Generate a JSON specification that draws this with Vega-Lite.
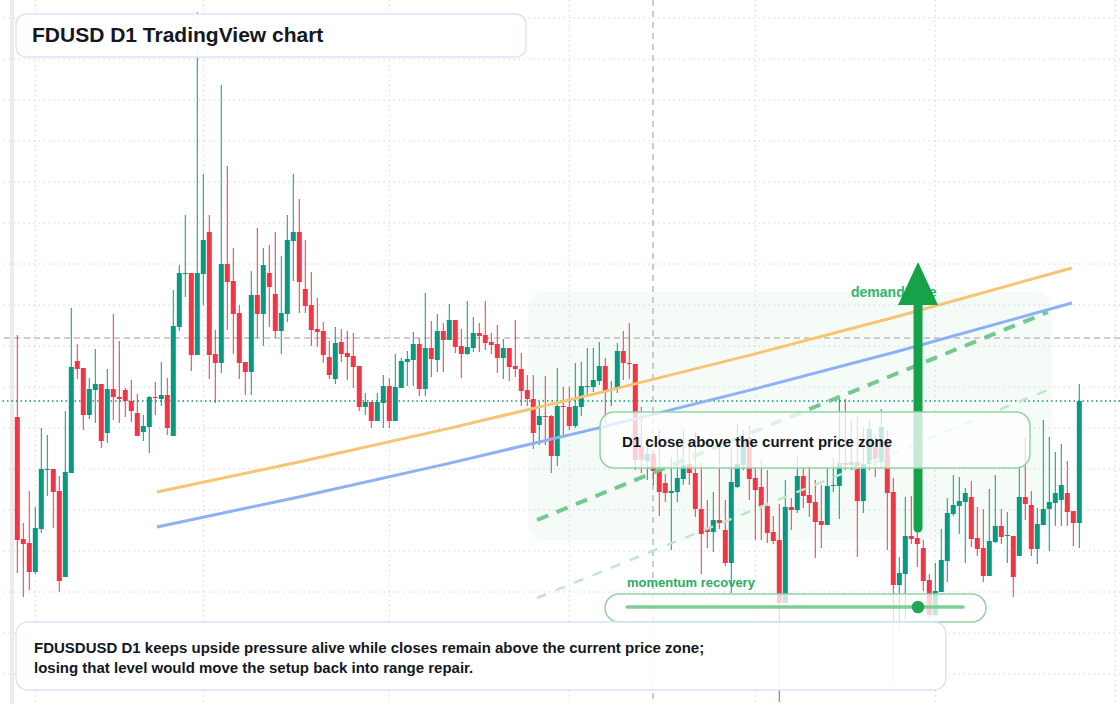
{
"$schema":"https://vega.github.io/schema/vega-lite/v6.json",
"width":1120,"height":704,
"autosize":{"type":"none"},
"padding":0,
"background":"#ffffff",
"config":{"view":{"stroke":null},"axis":{"disable":true},"font":"Liberation Sans","scale":{"continuousPadding":0}},
"datasets":{
"candles":[
{"t":0,"o":0.99985,"h":1.00067,"l":0.99829,"c":0.99862},
{"t":1,"o":0.99863,"h":0.99879,"l":0.99805,"c":0.99858},
{"t":2,"o":0.99859,"h":0.99911,"l":0.99812,"c":0.99830},
{"t":3,"o":0.99830,"h":0.99895,"l":0.99828,"c":0.99874},
{"t":4,"o":0.99873,"h":0.99974,"l":0.99869,"c":0.99933},
{"t":5,"o":0.99932,"h":0.99967,"l":0.99906,"c":0.99933},
{"t":6,"o":0.99933,"h":0.99933,"l":0.99874,"c":0.99910},
{"t":7,"o":0.99911,"h":0.99926,"l":0.99810,"c":0.99821},
{"t":8,"o":0.99825,"h":0.99991,"l":0.99825,"c":0.99930},
{"t":9,"o":0.99929,"h":1.00094,"l":0.99929,"c":1.00035},
{"t":10,"o":1.00041,"h":1.00058,"l":1.00023,"c":1.00033},
{"t":11,"o":1.00034,"h":1.00034,"l":0.99972,"c":0.99987},
{"t":12,"o":0.99987,"h":1.00024,"l":0.99983,"c":1.00013},
{"t":13,"o":1.00012,"h":1.00053,"l":0.99979,"c":1.00018},
{"t":14,"o":1.00018,"h":1.00018,"l":0.99954,"c":0.99961},
{"t":15,"o":0.99969,"h":1.00033,"l":0.99959,"c":1.00013},
{"t":16,"o":1.00013,"h":1.00088,"l":0.99982,"c":1.00005},
{"t":17,"o":1.00005,"h":1.00061,"l":0.99979,"c":1.00003},
{"t":18,"o":1.00012,"h":1.00014,"l":0.99985,"c":1.00001},
{"t":19,"o":1.00001,"h":1.00022,"l":0.99980,"c":0.99991},
{"t":20,"o":0.99989,"h":1.00008,"l":0.99966,"c":0.99966},
{"t":21,"o":0.99970,"h":0.99987,"l":0.99961,"c":0.99976},
{"t":22,"o":0.99975,"h":1.00006,"l":0.99949,"c":1.00005},
{"t":23,"o":1.00005,"h":1.00020,"l":0.99987,"c":1.00004},
{"t":24,"o":1.00003,"h":1.00040,"l":0.99996,"c":1.00007},
{"t":25,"o":1.00007,"h":1.00024,"l":0.99967,"c":0.99974},
{"t":26,"o":0.99966,"h":1.00112,"l":0.99966,"c":1.00076},
{"t":27,"o":1.00075,"h":1.00137,"l":1.00071,"c":1.00129},
{"t":28,"o":1.00128,"h":1.00187,"l":1.00105,"c":1.00129},
{"t":29,"o":1.00129,"h":1.00129,"l":1.00031,"c":1.00047},
{"t":30,"o":1.00047,"h":1.00390,"l":1.00047,"c":1.00129},
{"t":31,"o":1.00128,"h":1.00228,"l":1.00097,"c":1.00162},
{"t":32,"o":1.00170,"h":1.00187,"l":1.00023,"c":1.00047},
{"t":33,"o":1.00048,"h":1.00072,"l":0.99999,"c":1.00039},
{"t":34,"o":1.00039,"h":1.00317,"l":1.00029,"c":1.00138},
{"t":35,"o":1.00138,"h":1.00236,"l":1.00072,"c":1.00120},
{"t":36,"o":1.00121,"h":1.00154,"l":1.00048,"c":1.00088},
{"t":37,"o":1.00089,"h":1.00097,"l":1.00023,"c":1.00039},
{"t":38,"o":1.00040,"h":1.00040,"l":1.00007,"c":1.00030},
{"t":39,"o":1.00030,"h":1.00131,"l":1.00007,"c":1.00107},
{"t":40,"o":1.00107,"h":1.00174,"l":1.00064,"c":1.00088},
{"t":41,"o":1.00088,"h":1.00154,"l":1.00056,"c":1.00137},
{"t":42,"o":1.00129,"h":1.00157,"l":1.00075,"c":1.00115},
{"t":43,"o":1.00108,"h":1.00170,"l":1.00064,"c":1.00071},
{"t":44,"o":1.00071,"h":1.00146,"l":1.00048,"c":1.00089},
{"t":45,"o":1.00088,"h":1.00187,"l":1.00080,"c":1.00162},
{"t":46,"o":1.00161,"h":1.00228,"l":1.00121,"c":1.00170},
{"t":47,"o":1.00170,"h":1.00203,"l":1.00089,"c":1.00120},
{"t":48,"o":1.00113,"h":1.00162,"l":1.00089,"c":1.00096},
{"t":49,"o":1.00097,"h":1.00130,"l":1.00056,"c":1.00072},
{"t":50,"o":1.00073,"h":1.00104,"l":1.00055,"c":1.00070},
{"t":51,"o":1.00071,"h":1.00080,"l":1.00039,"c":1.00047},
{"t":52,"o":1.00045,"h":1.00061,"l":1.00023,"c":1.00027},
{"t":53,"o":1.00023,"h":1.00075,"l":1.00018,"c":1.00059},
{"t":54,"o":1.00060,"h":1.00073,"l":1.00040,"c":1.00048},
{"t":55,"o":1.00049,"h":1.00071,"l":1.00022,"c":1.00045},
{"t":56,"o":1.00046,"h":1.00069,"l":1.00014,"c":1.00035},
{"t":57,"o":1.00036,"h":1.00036,"l":0.99991,"c":0.99995},
{"t":58,"o":0.99995,"h":1.00009,"l":0.99987,"c":1.00000},
{"t":59,"o":1.00000,"h":1.00000,"l":0.99974,"c":0.99981},
{"t":60,"o":0.99981,"h":1.00009,"l":0.99981,"c":1.00000},
{"t":61,"o":0.99999,"h":1.00027,"l":0.99974,"c":1.00016},
{"t":62,"o":1.00016,"h":1.00024,"l":0.99974,"c":0.99981},
{"t":63,"o":0.99981,"h":1.00048,"l":0.99981,"c":1.00015},
{"t":64,"o":1.00014,"h":1.00044,"l":1.00014,"c":1.00041},
{"t":65,"o":1.00040,"h":1.00051,"l":1.00016,"c":1.00043},
{"t":66,"o":1.00042,"h":1.00070,"l":1.00016,"c":1.00058},
{"t":67,"o":1.00058,"h":1.00064,"l":1.00006,"c":1.00013},
{"t":68,"o":1.00013,"h":1.00109,"l":1.00006,"c":1.00054},
{"t":69,"o":1.00054,"h":1.00081,"l":1.00025,"c":1.00043},
{"t":70,"o":1.00042,"h":1.00088,"l":1.00030,"c":1.00071},
{"t":71,"o":1.00071,"h":1.00079,"l":1.00030,"c":1.00062},
{"t":72,"o":1.00062,"h":1.00098,"l":1.00062,"c":1.00082},
{"t":73,"o":1.00082,"h":1.00082,"l":1.00049,"c":1.00055},
{"t":74,"o":1.00056,"h":1.00073,"l":1.00024,"c":1.00048},
{"t":75,"o":1.00048,"h":1.00101,"l":1.00047,"c":1.00055},
{"t":76,"o":1.00054,"h":1.00085,"l":1.00050,"c":1.00069},
{"t":77,"o":1.00069,"h":1.00079,"l":1.00050,"c":1.00066},
{"t":78,"o":1.00067,"h":1.00101,"l":1.00052,"c":1.00059},
{"t":79,"o":1.00060,"h":1.00069,"l":1.00048,"c":1.00057},
{"t":80,"o":1.00058,"h":1.00077,"l":1.00029,"c":1.00044},
{"t":81,"o":1.00044,"h":1.00063,"l":1.00023,"c":1.00054},
{"t":82,"o":1.00054,"h":1.00054,"l":1.00021,"c":1.00035},
{"t":83,"o":1.00036,"h":1.00082,"l":1.00025,"c":1.00033},
{"t":84,"o":1.00033,"h":1.00049,"l":0.99996,"c":1.00011},
{"t":85,"o":1.00012,"h":1.00027,"l":0.99996,"c":1.00003},
{"t":86,"o":1.00003,"h":1.00027,"l":0.99953,"c":0.99969},
{"t":87,"o":0.99977,"h":1.00000,"l":0.99957,"c":0.99986},
{"t":88,"o":0.99986,"h":1.00026,"l":0.99957,"c":0.99985},
{"t":89,"o":0.99986,"h":0.99987,"l":0.99929,"c":0.99946},
{"t":90,"o":0.99946,"h":1.00034,"l":0.99936,"c":0.99996},
{"t":91,"o":0.99996,"h":1.00015,"l":0.99965,"c":0.99995},
{"t":92,"o":0.99995,"h":1.00015,"l":0.99972,"c":0.99976},
{"t":93,"o":0.99976,"h":1.00039,"l":0.99974,"c":0.99996},
{"t":94,"o":0.99995,"h":1.00040,"l":0.99986,"c":1.00016},
{"t":95,"o":1.00015,"h":1.00054,"l":1.00005,"c":1.00016},
{"t":96,"o":1.00015,"h":1.00054,"l":1.00010,"c":1.00022},
{"t":97,"o":1.00021,"h":1.00060,"l":1.00017,"c":1.00036},
{"t":98,"o":1.00036,"h":1.00044,"l":0.99979,"c":1.00010},
{"t":99,"o":1.00012,"h":1.00021,"l":0.99996,"c":1.00013},
{"t":100,"o":1.00014,"h":1.00059,"l":1.00009,"c":1.00051},
{"t":101,"o":1.00051,"h":1.00071,"l":1.00022,"c":1.00039},
{"t":102,"o":1.00039,"h":1.00079,"l":1.00023,"c":1.00038},
{"t":103,"o":1.00038,"h":1.00038,"l":0.99932,"c":0.99942},
{"t":104,"o":0.99955,"h":0.99995,"l":0.99929,"c":0.99942},
{"t":105,"o":0.99941,"h":0.99962,"l":0.99922,"c":0.99948},
{"t":106,"o":0.99948,"h":0.99952,"l":0.99917,"c":0.99931},
{"t":107,"o":0.99933,"h":0.99972,"l":0.99886,"c":0.99910},
{"t":108,"o":0.99919,"h":0.99928,"l":0.99900,"c":0.99909},
{"t":109,"o":0.99909,"h":0.99945,"l":0.99852,"c":0.99911},
{"t":110,"o":0.99910,"h":0.99961,"l":0.99900,"c":0.99924},
{"t":111,"o":0.99923,"h":0.99972,"l":0.99917,"c":0.99937},
{"t":112,"o":0.99938,"h":0.99959,"l":0.99917,"c":0.99929},
{"t":113,"o":0.99929,"h":0.99970,"l":0.99885,"c":0.99893},
{"t":114,"o":0.99893,"h":0.99939,"l":0.99828,"c":0.99868},
{"t":115,"o":0.99874,"h":0.99902,"l":0.99854,"c":0.99870},
{"t":116,"o":0.99870,"h":0.99910,"l":0.99850,"c":0.99882},
{"t":117,"o":0.99882,"h":0.99955,"l":0.99873,"c":0.99879},
{"t":118,"o":0.99872,"h":0.99902,"l":0.99836,"c":0.99839},
{"t":119,"o":0.99839,"h":0.99953,"l":0.99809,"c":0.99920},
{"t":120,"o":0.99915,"h":0.99979,"l":0.99914,"c":0.99938},
{"t":121,"o":0.99937,"h":0.99972,"l":0.99932,"c":0.99962},
{"t":122,"o":0.99964,"h":0.99977,"l":0.99902,"c":0.99923},
{"t":123,"o":0.99924,"h":0.99935,"l":0.99862,"c":0.99912},
{"t":124,"o":0.99915,"h":0.99942,"l":0.99862,"c":0.99895},
{"t":125,"o":0.99896,"h":0.99932,"l":0.99859,"c":0.99869},
{"t":126,"o":0.99870,"h":0.99886,"l":0.99858,"c":0.99861},
{"t":127,"o":0.99862,"h":0.99898,"l":0.99700,"c":0.99799},
{"t":128,"o":0.99799,"h":0.99922,"l":0.99799,"c":0.99895},
{"t":129,"o":0.99895,"h":0.99904,"l":0.99872,"c":0.99892},
{"t":130,"o":0.99892,"h":0.99945,"l":0.99889,"c":0.99926},
{"t":131,"o":0.99926,"h":0.99934,"l":0.99894,"c":0.99906},
{"t":132,"o":0.99907,"h":0.99936,"l":0.99885,"c":0.99899},
{"t":133,"o":0.99900,"h":0.99922,"l":0.99844,"c":0.99880},
{"t":134,"o":0.99881,"h":0.99917,"l":0.99854,"c":0.99877},
{"t":135,"o":0.99877,"h":0.99935,"l":0.99877,"c":0.99916},
{"t":136,"o":0.99916,"h":0.99944,"l":0.99910,"c":0.99917},
{"t":137,"o":0.99916,"h":1.00006,"l":0.99883,"c":0.99939},
{"t":138,"o":0.99939,"h":1.00003,"l":0.99932,"c":0.99937},
{"t":139,"o":0.99937,"h":0.99981,"l":0.99932,"c":0.99940},
{"t":140,"o":0.99940,"h":0.99985,"l":0.99845,"c":0.99901},
{"t":141,"o":0.99901,"h":0.99975,"l":0.99889,"c":0.99938},
{"t":142,"o":0.99938,"h":0.99982,"l":0.99932,"c":0.99973},
{"t":143,"o":0.99955,"h":0.99967,"l":0.99925,"c":0.99940},
{"t":144,"o":0.99940,"h":0.99993,"l":0.99934,"c":0.99975},
{"t":145,"o":0.99956,"h":0.99972,"l":0.99852,"c":0.99909},
{"t":146,"o":0.99910,"h":0.99924,"l":0.99720,"c":0.99817},
{"t":147,"o":0.99817,"h":0.99845,"l":0.99770,"c":0.99829},
{"t":148,"o":0.99828,"h":0.99905,"l":0.99782,"c":0.99866},
{"t":149,"o":0.99866,"h":0.99906,"l":0.99858,"c":0.99863},
{"t":150,"o":0.99864,"h":0.99872,"l":0.99835,"c":0.99858},
{"t":151,"o":0.99854,"h":0.99862,"l":0.99811,"c":0.99821},
{"t":152,"o":0.99822,"h":0.99828,"l":0.99784,"c":0.99787},
{"t":153,"o":0.99787,"h":0.99839,"l":0.99787,"c":0.99811},
{"t":154,"o":0.99810,"h":0.99873,"l":0.99810,"c":0.99842},
{"t":155,"o":0.99841,"h":0.99904,"l":0.99820,"c":0.99889},
{"t":156,"o":0.99888,"h":0.99927,"l":0.99886,"c":0.99897},
{"t":157,"o":0.99896,"h":0.99925,"l":0.99868,"c":0.99901},
{"t":158,"o":0.99900,"h":0.99914,"l":0.99839,"c":0.99909},
{"t":159,"o":0.99905,"h":0.99921,"l":0.99855,"c":0.99863},
{"t":160,"o":0.99864,"h":0.99895,"l":0.99846,"c":0.99853},
{"t":161,"o":0.99854,"h":0.99893,"l":0.99820,"c":0.99826},
{"t":162,"o":0.99826,"h":0.99913,"l":0.99826,"c":0.99861},
{"t":163,"o":0.99860,"h":0.99927,"l":0.99859,"c":0.99876},
{"t":164,"o":0.99876,"h":0.99893,"l":0.99858,"c":0.99865},
{"t":165,"o":0.99866,"h":0.99890,"l":0.99839,"c":0.99867},
{"t":166,"o":0.99866,"h":0.99866,"l":0.99805,"c":0.99825},
{"t":167,"o":0.99846,"h":0.99936,"l":0.99846,"c":0.99905},
{"t":168,"o":0.99905,"h":0.99965,"l":0.99882,"c":0.99898},
{"t":169,"o":0.99897,"h":0.99911,"l":0.99846,"c":0.99853},
{"t":170,"o":0.99853,"h":0.99894,"l":0.99838,"c":0.99878},
{"t":171,"o":0.99877,"h":0.99982,"l":0.99877,"c":0.99893},
{"t":172,"o":0.99893,"h":0.99965,"l":0.99851,"c":0.99900},
{"t":173,"o":0.99899,"h":0.99950,"l":0.99876,"c":0.99909},
{"t":174,"o":0.99902,"h":0.99958,"l":0.99876,"c":0.99917},
{"t":175,"o":0.99909,"h":0.99941,"l":0.99876,"c":0.99890},
{"t":176,"o":0.99891,"h":0.99891,"l":0.99856,"c":0.99879},
{"t":177,"o":0.99879,"h":1.00018,"l":0.99854,"c":1.00001}
],
"hgrid":[{"p":1.00384},{"p":1.00343},{"p":1.00302},{"p":1.00261},{"p":1.00220},{"p":1.00179},{"p":1.00138},{"p":1.00097},{"p":1.00056},{"p":1.00015},{"p":0.99974},{"p":0.99933},{"p":0.99892},{"p":0.99851},{"p":0.99810},{"p":0.99769},{"p":0.99728}],
"vgrid":[{"t":3},{"t":31},{"t":62},{"t":92},{"t":123},{"t":153},{"t":183}]
},
"layer":[
{"data":{"values":[{"a":85.12,"b":172.45,"p1":1.00110,"p2":0.99862}]},
 "mark":{"type":"rect","fill":"#22c55e","opacity":0.045,"cornerRadius":16},
 "encoding":{"x":{"field":"a","type":"quantitative","scale":{"domain":[-2.883,183.783],"nice":false,"zero":false}},"x2":{"field":"b"},
 "y":{"field":"p1","type":"quantitative","scale":{"domain":[0.99698,1.00402],"nice":false,"zero":false}},"y2":{"field":"p2"}}},
{"data":{"values":[{"a":-1.22,"b":-0.55,"p1":1.00402,"p2":0.99698}]},
 "mark":{"type":"rect","fill":"#ececec"},
 "encoding":{"x":{"field":"a","type":"quantitative","scale":{"domain":[-2.883,183.783],"nice":false,"zero":false}},"x2":{"field":"b"},
 "y":{"field":"p1","type":"quantitative","scale":{"domain":[0.99698,1.00402],"nice":false,"zero":false}},"y2":{"field":"p2"}}},
{"data":{"name":"hgrid"},
 "mark":{"type":"rule","color":"#d4d4d4","strokeDash":[1.5,3.5],"strokeWidth":1},
 "encoding":{"y":{"field":"p","type":"quantitative","scale":{"domain":[0.99698,1.00402],"nice":false,"zero":false}}}},
{"data":{"name":"vgrid"},
 "mark":{"type":"rule","color":"#d4d4d4","strokeDash":[1.5,3.5],"strokeWidth":1},
 "encoding":{"x":{"field":"t","type":"quantitative","scale":{"domain":[-2.883,183.783],"nice":false,"zero":false}}}},
{"data":{"values":[{"p":1.00064}]},
 "mark":{"type":"rule","color":"#9e9e9e","strokeDash":[6,4],"strokeWidth":1.2},
 "encoding":{"y":{"field":"p","type":"quantitative","scale":{"domain":[0.99698,1.00402],"nice":false,"zero":false}}}},
{"data":{"values":[{"t":105.95}]},
 "mark":{"type":"rule","color":"#a3a3a3","strokeDash":[6,5],"strokeWidth":1.1},
 "encoding":{"x":{"field":"t","type":"quantitative","scale":{"domain":[-2.883,183.783],"nice":false,"zero":false}}}},
{"data":{"values":[{"p":1.00001}]},
 "mark":{"type":"rule","color":"#12907a","strokeDash":[1.5,3],"strokeWidth":1.3},
 "encoding":{"y":{"field":"p","type":"quantitative","scale":{"domain":[0.99698,1.00402],"nice":false,"zero":false}}}},
{"data":{"name":"candles"},
 "mark":{"type":"rule","strokeWidth":1},
 "encoding":{"x":{"field":"t","type":"quantitative","scale":{"domain":[-2.883,183.783],"nice":false,"zero":false}},
 "y":{"field":"l","type":"quantitative","scale":{"domain":[0.99698,1.00402],"nice":false,"zero":false}},"y2":{"field":"h"},
 "color":{"condition":{"test":"datum.c >= datum.o","value":"#089981"},"value":"#f23645"}}},
{"data":{"name":"candles"},
 "mark":{"type":"bar","size":5,"orient":"vertical"},
 "encoding":{"x":{"field":"t","type":"quantitative","scale":{"domain":[-2.883,183.783],"nice":false,"zero":false,"padding":0}},
 "y":{"field":"o","type":"quantitative","scale":{"domain":[0.99698,1.00402],"nice":false,"zero":false}},"y2":{"field":"c"},
 "color":{"condition":{"test":"datum.c >= datum.o","value":"#089981"},"value":"#f23645"}}},
{"data":{"values":[{"t":23.28,"p":0.99910},{"t":47.12,"p":0.999403},{"t":72.12,"p":0.999739},{"t":97.12,"p":1.000094},{"t":122.12,"p":1.000469},{"t":147.12,"p":1.000863},{"t":175.78,"p":1.00134}]},
 "mark":{"type":"line","color":"#f8c471","strokeWidth":3,"interpolate":"monotone"},
 "encoding":{"x":{"field":"t","type":"quantitative","scale":{"domain":[-2.883,183.783],"nice":false,"zero":false}},
 "y":{"field":"p","type":"quantitative","scale":{"domain":[0.99698,1.00402],"nice":false,"zero":false}}}},
{"data":{"values":[{"t":23.28,"p":0.99875},{"t":47.12,"p":0.999053},{"t":72.12,"p":0.999389},{"t":97.12,"p":0.999744},{"t":122.12,"p":1.000119},{"t":147.12,"p":1.000513},{"t":175.78,"p":1.00099}]},
 "mark":{"type":"line","color":"#8eb0f6","strokeWidth":3,"interpolate":"monotone"},
 "encoding":{"x":{"field":"t","type":"quantitative","scale":{"domain":[-2.883,183.783],"nice":false,"zero":false}},
 "y":{"field":"p","type":"quantitative","scale":{"domain":[0.99698,1.00402],"nice":false,"zero":false}}}},
{"data":{"values":[{"t":86.62,"p":0.99882},{"t":171.78,"p":1.00090}]},
 "mark":{"type":"line","color":"#74c98e","strokeWidth":4,"strokeDash":[12,9]},
 "encoding":{"x":{"field":"t","type":"quantitative","scale":{"domain":[-2.883,183.783],"nice":false,"zero":false}},
 "y":{"field":"p","type":"quantitative","scale":{"domain":[0.99698,1.00402],"nice":false,"zero":false}}}},
{"data":{"values":[{"t":86.62,"p":0.99804},{"t":171.78,"p":1.00012}]},
 "mark":{"type":"line","color":"#bfe7cb","strokeWidth":2.5,"strokeDash":[10,10]},
 "encoding":{"x":{"field":"t","type":"quantitative","scale":{"domain":[-2.883,183.783],"nice":false,"zero":false}},
 "y":{"field":"p","type":"quantitative","scale":{"domain":[0.99698,1.00402],"nice":false,"zero":false}}}},
{"data":{"values":[{"t":138.95,"p":1.00109,"s":"demand side"}]},
 "mark":{"type":"text","align":"left","baseline":"middle","fontSize":14,"fontWeight":"bold","color":"#34b566"},
 "encoding":{"x":{"field":"t","type":"quantitative","scale":{"domain":[-2.883,183.783],"nice":false,"zero":false}},
 "y":{"field":"p","type":"quantitative","scale":{"domain":[0.99698,1.00402],"nice":false,"zero":false}},"text":{"field":"s"}}},
{"data":{"values":[{"t":150.12,"p1":0.99874,"p2":1.00102}]},
 "mark":{"type":"rule","color":"#17a24a","strokeWidth":9,"strokeCap":"round"},
 "encoding":{"x":{"field":"t","type":"quantitative","scale":{"domain":[-2.883,183.783],"nice":false,"zero":false}},
 "y":{"field":"p1","type":"quantitative","scale":{"domain":[0.99698,1.00402],"nice":false,"zero":false}},"y2":{"field":"p2"}}},
{"data":{"values":[{"t":150.12,"p":1.001185}]},
 "mark":{"type":"point","shape":"M0,-1L0.93,1L-0.93,1Z","size":1849,"filled":true,"color":"#17a24a","opacity":1},
 "encoding":{"x":{"field":"t","type":"quantitative","scale":{"domain":[-2.883,183.783],"nice":false,"zero":false}},
 "y":{"field":"p","type":"quantitative","scale":{"domain":[0.99698,1.00402],"nice":false,"zero":false}}}},
{"data":{"values":[{"a":97.12,"b":168.78,"p1":0.99990,"p2":0.99934}]},
 "mark":{"type":"rect","fill":"#ffffff","fillOpacity":0.76,"stroke":"#93d3a5","strokeWidth":1.5,"cornerRadius":14},
 "encoding":{"x":{"field":"a","type":"quantitative","scale":{"domain":[-2.883,183.783],"nice":false,"zero":false}},"x2":{"field":"b"},
 "y":{"field":"p1","type":"quantitative","scale":{"domain":[0.99698,1.00402],"nice":false,"zero":false}},"y2":{"field":"p2"}}},
{"data":{"values":[{"t":100.78,"p":0.99960,"s":"D1 close above the current price zone"}]},
 "mark":{"type":"text","align":"left","baseline":"middle","fontSize":15,"fontWeight":"bold","color":"#131722"},
 "encoding":{"x":{"field":"t","type":"quantitative","scale":{"domain":[-2.883,183.783],"nice":false,"zero":false}},
 "y":{"field":"p","type":"quantitative","scale":{"domain":[0.99698,1.00402],"nice":false,"zero":false}},"text":{"field":"s"}}},
{"data":{"values":[{"a":97.95,"b":161.45,"p1":0.99808,"p2":0.99780}]},
 "mark":{"type":"rect","fill":"#ffffff","fillOpacity":0.76,"stroke":"#93d3a5","strokeWidth":1.5,"cornerRadius":14},
 "encoding":{"x":{"field":"a","type":"quantitative","scale":{"domain":[-2.883,183.783],"nice":false,"zero":false}},"x2":{"field":"b"},
 "y":{"field":"p1","type":"quantitative","scale":{"domain":[0.99698,1.00402],"nice":false,"zero":false}},"y2":{"field":"p2"}}},
{"data":{"values":[{"t":101.62,"p":0.99795},{"t":157.62,"p":0.99795}]},
 "mark":{"type":"line","color":"#7ecf96","strokeWidth":3.5,"strokeCap":"round"},
 "encoding":{"x":{"field":"t","type":"quantitative","scale":{"domain":[-2.883,183.783],"nice":false,"zero":false}},
 "y":{"field":"p","type":"quantitative","scale":{"domain":[0.99698,1.00402],"nice":false,"zero":false}}}},
{"data":{"values":[{"t":150.12,"p":0.99795}]},
 "mark":{"type":"circle","size":160,"color":"#22a652","opacity":1},
 "encoding":{"x":{"field":"t","type":"quantitative","scale":{"domain":[-2.883,183.783],"nice":false,"zero":false}},
 "y":{"field":"p","type":"quantitative","scale":{"domain":[0.99698,1.00402],"nice":false,"zero":false}}}},
{"data":{"values":[{"t":101.62,"p":0.99819,"s":"momentum recovery"}]},
 "mark":{"type":"text","align":"left","baseline":"middle","fontSize":13,"fontWeight":"bold","color":"#2aae5e"},
 "encoding":{"x":{"field":"t","type":"quantitative","scale":{"domain":[-2.883,183.783],"nice":false,"zero":false}},
 "y":{"field":"p","type":"quantitative","scale":{"domain":[0.99698,1.00402],"nice":false,"zero":false}},"text":{"field":"s"}}},
{"data":{"values":[{"a":-0.22,"b":84.78,"p1":1.00388,"p2":1.00345}]},
 "mark":{"type":"rect","fill":"#ffffff","fillOpacity":0.95,"stroke":"#d7e5fb","strokeWidth":1.5,"cornerRadius":10},
 "encoding":{"x":{"field":"a","type":"quantitative","scale":{"domain":[-2.883,183.783],"nice":false,"zero":false}},"x2":{"field":"b"},
 "y":{"field":"p1","type":"quantitative","scale":{"domain":[0.99698,1.00402],"nice":false,"zero":false}},"y2":{"field":"p2"}}},
{"data":{"values":[{"t":2.45,"p":1.00366,"s":"FDUSD D1 TradingView chart"}]},
 "mark":{"type":"text","align":"left","baseline":"middle","fontSize":21,"fontWeight":"bold","color":"#131722"},
 "encoding":{"x":{"field":"t","type":"quantitative","scale":{"domain":[-2.883,183.783],"nice":false,"zero":false}},
 "y":{"field":"p","type":"quantitative","scale":{"domain":[0.99698,1.00402],"nice":false,"zero":false}},"text":{"field":"s"}}},
{"data":{"values":[{"a":-0.22,"b":154.78,"p1":0.99780,"p2":0.99712}]},
 "mark":{"type":"rect","fill":"#ffffff","fillOpacity":0.9,"stroke":"#d7e5fb","strokeWidth":1.5,"cornerRadius":12},
 "encoding":{"x":{"field":"a","type":"quantitative","scale":{"domain":[-2.883,183.783],"nice":false,"zero":false}},"x2":{"field":"b"},
 "y":{"field":"p1","type":"quantitative","scale":{"domain":[0.99698,1.00402],"nice":false,"zero":false}},"y2":{"field":"p2"}}},
{"data":{"values":[{"t":2.78,"p":0.99754,"s":"FDUSDUSD D1 keeps upside pressure alive while closes remain above the current price zone;"},{"t":2.78,"p":0.99734,"s":"losing that level would move the setup back into range repair."}]},
 "mark":{"type":"text","align":"left","baseline":"middle","fontSize":15,"fontWeight":"bold","color":"#131722"},
 "encoding":{"x":{"field":"t","type":"quantitative","scale":{"domain":[-2.883,183.783],"nice":false,"zero":false}},
 "y":{"field":"p","type":"quantitative","scale":{"domain":[0.99698,1.00402],"nice":false,"zero":false}},"text":{"field":"s"}}}
]
}
